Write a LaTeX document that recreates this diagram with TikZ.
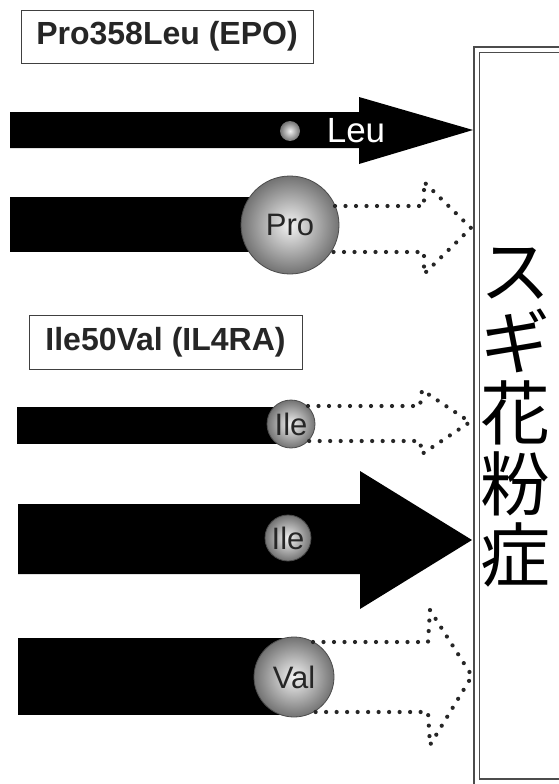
\documentclass[tikz,border=0pt]{standalone}
\usepackage{fontspec}
\setmainfont{Liberation Sans}
\newfontfamily\jpfont{Noto Sans CJK JP}
\begin{document}
\begin{tikzpicture}[x=1pt,y=-1pt,
  labelbox/.style={draw=black!75, line width=0.8pt, inner sep=0pt, font=\bfseries\fontsize{32}{36}\selectfont, text=black!85},
  ball/.style={circle, inner sep=0pt, draw=black!70, line width=0.8pt, inner color=white!95!black, outer color=black!55, text=black!85},
  dotarrow/.style={draw=black!85, line width=4.2pt, line cap=round, dash pattern=on 0pt off 10.5pt},
  frame/.style={draw=black!70, double=white, double distance=4pt, line width=1.1pt, inner sep=0pt}]
\useasboundingbox (0,0) rectangle (559,784);
\fill[white] (0,0) rectangle (559,784);

% target frame and text
\node[frame, anchor=north west, minimum width=160pt, minimum height=732pt] (box) at (476,49) {};
\node[font=\jpfont\fontsize{70}{71}\selectfont, align=center, inner sep=0pt] (disease) at (515,418) {ス\\ギ\\花\\粉\\症};

% labels
\node[labelbox, minimum width=292pt, minimum height=53pt] (epo) at (167,36.5) {Pro358Leu (EPO)};
\node[labelbox, minimum width=273pt, minimum height=54pt] (il4ra) at (165.5,342) {Ile50Val (IL4RA)};

% Leu arrow
\coordinate (tipA) at (473,130);
\fill (10,112) -- (359,112) -- (359,97) -- (tipA) -- (359,164) -- (359,148) -- (10,148) -- cycle;
\node[ball, minimum size=20pt, draw=none] (leudot) at (290,131) {};
\node[text=white, font=\fontsize{35}{36}\selectfont, inner sep=0pt] (leu) at (356,131) {Leu};

% Pro arrow
\fill (10,197) rectangle (290,252);
\node[ball, minimum size=98pt, font=\fontsize{31}{32}\selectfont] (pro) at (290,225) {Pro};
\coordinate (tipB) at (471,228);
\draw[dotarrow] (335,206) -- (424,206) -- (424,182) -- (tipB) -- (424,274) -- (424,252) -- (331,252);

% Ile thin arrow
\fill (17,407) rectangle (291,444);
\node[ball, minimum size=48pt, font=\fontsize{31}{32}\selectfont] (ile1) at (291,424) {Ile};
\coordinate (tipC) at (470,422);
\draw[dotarrow] (308,406) -- (420,406) -- (422,390) -- (tipC) -- (422,454) -- (420,441) -- (309,441);

% Ile big arrow
\coordinate (tipD) at (472,540);
\fill (18,504) -- (360,504) -- (360,471) -- (tipD) -- (360,609) -- (360,574) -- (18,574) -- cycle;
\node[ball, minimum size=46pt, font=\fontsize{31}{32}\selectfont] (ile2) at (288,538) {Ile};

% Val arrow
\fill (18,638) rectangle (294,715);
\node[ball, minimum size=80pt, font=\fontsize{31}{32}\selectfont] (val) at (294,677) {Val};
\coordinate (tipE) at (472,676);
\draw[dotarrow] (313,642) -- (428,642) -- (430,610) -- (tipE) -- (430,745) -- (428,712) -- (313,712);
\end{tikzpicture}
\end{document}
